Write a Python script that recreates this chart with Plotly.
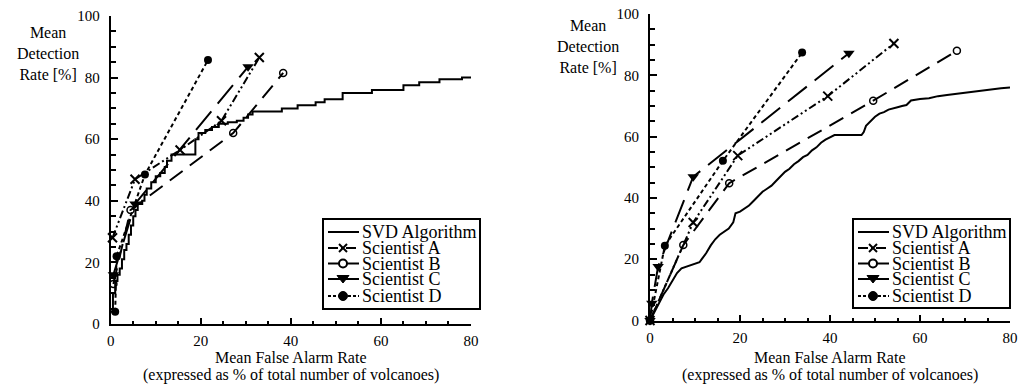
import plotly.graph_objects as go

FONT = "Liberation Serif, Times New Roman, Times, Nimbus Roman, DejaVu Serif, serif"
W, H = 1018, 386

# ---------------- data: left panel ----------------
svd_left_x = [0, 0.5, 1, 1.5, 2, 2.5, 3, 3.5, 4, 4.5, 5, 5.5, 6, 7, 7.5, 8, 9, 10, 11, 12, 12.5,
              13.5, 18.3, 18.8, 19.5, 21, 22.5, 24, 26, 28, 29.5, 30.5, 31.5, 38, 41.5, 45.5,
              47.5, 51.5, 58, 65, 68.5, 73, 78, 80]
svd_left_y = [4, 10, 14, 16, 18, 21, 24, 26, 29, 32, 35, 37, 39, 40, 42, 44, 46, 48, 49, 51, 53,
              55, 55, 60, 62, 63, 64, 65, 65.5, 66, 67, 68, 69, 70, 71, 72, 73, 75, 76, 77.5,
              78.5, 79.5, 80, 80]
a_left_x = [0.4, 5.4, 15.4, 24.6, 33.0]
a_left_y = [28, 47, 56.5, 66, 86.5]
b_left_x = [0.6, 4.4, 27.2, 38.3]
b_left_y = [13, 37, 62, 81.5]
c_left_x = [0.6, 5.4, 30.5]
c_left_y = [16, 39, 83.5]
d_left_x = [1.0, 1.3, 7.6, 21.6]
d_left_y = [4, 22, 48.5, 85.7]

# ---------------- data: right panel ----------------
svd_right_x = [0, 1, 2, 3, 4, 5, 6, 7, 8, 9, 10, 11, 11.5, 12.5, 13.5, 14.5, 15.5, 16.5, 17.5,
               18.5, 19, 20, 21, 22, 23, 24, 25, 26, 27, 28, 29, 30, 31, 32, 33, 34, 35, 36,
               37, 38, 39, 40, 41, 47, 47.5, 48, 49, 50, 51, 52, 53, 54, 55, 56, 57, 58, 59,
               60, 62, 64, 66, 68, 70, 72, 74, 76, 78, 80]
svd_right_y = [0, 3, 6, 8.5, 10.5, 13, 15.5, 17, 17.5, 18, 18.5, 19, 20, 22, 24.5, 26.5, 28, 29,
               30, 32, 35, 35.5, 36.5, 37.5, 39, 40.5, 42, 43, 44, 45.5, 47, 48.5, 49.5, 51, 52,
               53.3, 54, 55.5, 56.5, 58, 59, 59.8, 60.5, 60.5, 61.5, 63.5, 65, 66.5, 67.5, 68,
               68.8, 69.3, 69.6, 70, 70.3, 71.8, 72.1, 72.3, 72.5, 73.2, 73.6, 74, 74.4, 74.8,
               75.2, 75.4, 75.8, 76]
a_right_x = [0, 9.6, 19.5, 39.5, 54.2]
a_right_y = [0, 32, 53.8, 73.2, 90.4]
b_right_x = [0, 7.4, 17.6, 49.6, 68.2]
b_right_y = [0, 24.6, 44.8, 71.7, 88]
c_right_x = [0, 0.4, 1.8, 9.6, 44.2]
c_right_y = [0, 5.6, 17.6, 46.9, 87.2]
d_right_x = [0, 3.3, 16.2, 33.8]
d_right_y = [0, 24.4, 52.1, 87.4]

series_names = ["SVD Algorithm", "Scientist A", "Scientist B", "Scientist C", "Scientist D"]
x_ticks = [0, 20, 40, 60, 80]
y_ticks = [0, 20, 40, 60, 80, 100]

left_data = [(svd_left_x, svd_left_y), (a_left_x, a_left_y), (b_left_x, b_left_y),
             (c_left_x, c_left_y), (d_left_x, d_left_y)]
right_data = [(svd_right_x, svd_right_y), (a_right_x, a_right_y), (b_right_x, b_right_y),
              (c_right_x, c_right_y), (d_right_x, d_right_y)]

styles = [
    dict(dash="solid", symbol=None),
    dict(dash="8px,3px,2px,3px,2px,3px", symbol="x-thin", size=9, lw=2),
    dict(dash="16px,9px", symbol="circle-open", size=7, lw=1.5),
    dict(dash="24px,10px", symbol="triangle-down", size=10, lw=0),
    dict(dash="4px,3px", symbol="circle", size=8, lw=0),
]


def px_x(p):
    return p / W


def px_y(p):
    return 1 - p / H


fig = go.Figure()

panels = [
    dict(suffix="", data=left_data, shape="hv", xdom=(110.7, 471), ydom=(324, 16),
         box=(323, 219, 480, 309), ytitle=(48, 53)),
    dict(suffix="2", data=right_data, shape="linear", xdom=(650, 1010), ydom=(320.5, 14),
         box=(853, 219, 1010, 308), ytitle=(588, 47)),
]

shapes = []
annotations = []
axis_layout = {}

for p in panels:
    s = p["suffix"]
    for i, (name, (xs, ys)) in enumerate(zip(series_names, p["data"])):
        st = styles[i]
        tr = dict(x=xs, y=ys, name=name, showlegend=False, xaxis="x" + s, yaxis="y" + s,
                  line=dict(color="black", width=2, dash=st["dash"],
                            shape=p["shape"] if i == 0 else "linear"),
                  cliponaxis=False, hoverinfo="skip")
        if st["symbol"]:
            tr["mode"] = "lines+markers"
            tr["marker"] = dict(symbol=st["symbol"], size=st["size"], color="black",
                                line=dict(color="black", width=st["lw"]))
        else:
            tr["mode"] = "lines"
        fig.add_trace(go.Scatter(**tr))

    axfont = dict(family=FONT, size=15, color="black")
    axis_layout["xaxis" + s] = dict(
        domain=[px_x(p["xdom"][0]), px_x(p["xdom"][1])], range=[0, 80], anchor="y" + s,
        automargin=False, ticklabeloverflow="allow",
        showline=True, linewidth=2, linecolor="black", showgrid=False, zeroline=False,
        ticks="inside", ticklen=6, tickwidth=2, tickcolor="black", tickvals=x_ticks,
        tickfont=axfont, ticklabelstandoff=2,
        minor=dict(dtick=5, tick0=0, ticks="inside", ticklen=3, tickwidth=1.5,
                   tickcolor="black", showgrid=False))
    axis_layout["yaxis" + s] = dict(
        domain=[px_y(p["ydom"][0]), px_y(p["ydom"][1])], range=[0, 100], anchor="x" + s,
        automargin=False, ticklabeloverflow="allow",
        showline=True, linewidth=2, linecolor="black", showgrid=False, zeroline=False,
        ticks="inside", ticklen=7, tickwidth=2, tickcolor="black", tickvals=y_ticks,
        tickfont=axfont, ticklabelstandoff=6,
        minor=dict(dtick=5, tick0=0, ticks="inside", ticklen=5, tickwidth=1.5,
                   tickcolor="black", showgrid=False))

    # axis titles
    cx, cy = p["ytitle"]
    annotations.append(dict(text="Mean<br>Detection<br>Rate [%]", xref="paper", yref="paper",
                            x=px_x(cx), y=px_y(cy), xanchor="center", yanchor="middle",
                            showarrow=False, align="center",
                            font=dict(family=FONT, size=16, color="black")))
    xc = (p["xdom"][0] + p["xdom"][1]) / 2
    annotations.append(dict(text="Mean False Alarm Rate", xref="paper", yref="paper",
                            x=px_x(xc), y=px_y(357), xanchor="center", yanchor="middle",
                            showarrow=False, font=dict(family=FONT, size=16, color="black")))
    annotations.append(dict(text="(expressed as % of total number of volcanoes)", xref="paper",
                            yref="paper", x=px_x(xc), y=px_y(375), xanchor="center",
                            yanchor="middle", showarrow=False,
                            font=dict(family=FONT, size=16, color="black")))

    # manual legend
    x0, y0, x1, y1 = p["box"]
    shapes.append(dict(type="rect", xref="paper", yref="paper", x0=px_x(x0), x1=px_x(x1),
                       y0=px_y(y0), y1=px_y(y1), line=dict(color="black", width=2),
                       fillcolor="white", layer="above"))
    row_off = [13, 29, 44.5, 60, 77]
    for i, name in enumerate(series_names):
        ry = y0 + row_off[i]
        shapes.append(dict(type="line", xref="paper", yref="paper", x0=px_x(x0 + 5),
                           x1=px_x(x0 + 36), y0=px_y(ry), y1=px_y(ry),
                           line=dict(color="black", width=2,
                                     dash="solid" if i in (0, 2, 3) else
                                     ("3px,2px" if i == 4 else "10px,3px,2px,3px"))))
        mx = x0 + 20
        if i == 1:
            for d in (1, -1):
                shapes.append(dict(type="line", xref="paper", yref="paper",
                                   x0=px_x(mx - 4), x1=px_x(mx + 4), y0=px_y(ry - 4 * d),
                                   y1=px_y(ry + 4 * d), line=dict(color="black", width=2)))
        elif i == 2:
            shapes.append(dict(type="circle", xref="paper", yref="paper", x0=px_x(mx - 4),
                               x1=px_x(mx + 4), y0=px_y(ry - 4), y1=px_y(ry + 4),
                               fillcolor="white", line=dict(color="black", width=2)))
        elif i == 3:
            path = "M {} {} L {} {} L {} {} Z".format(px_x(mx - 6), px_y(ry - 3.5),
                                                       px_x(mx + 6), px_y(ry - 3.5),
                                                       px_x(mx), px_y(ry + 4))
            shapes.append(dict(type="path", xref="paper", yref="paper", path=path,
                               fillcolor="black", line=dict(color="black", width=1)))
        elif i == 4:
            shapes.append(dict(type="circle", xref="paper", yref="paper", x0=px_x(mx - 4.5),
                               x1=px_x(mx + 4.5), y0=px_y(ry - 4.5), y1=px_y(ry + 4.5),
                               fillcolor="black", line=dict(color="black", width=1)))
        annotations.append(dict(text=name, xref="paper", yref="paper", x=px_x(x0 + 37),
                                y=px_y(ry), xanchor="left", yanchor="middle",
                                showarrow=False,
                                font=dict(family=FONT, size=18, color="black")))

fig.update_layout(width=W, height=H, autosize=False, margin=dict(l=0, r=0, t=0, b=0),
                  paper_bgcolor="white", plot_bgcolor="white", showlegend=False,
                  hovermode=False, font=dict(family=FONT, color="black"),
                  shapes=shapes, annotations=annotations, **axis_layout)

# remove the default page margin so the 1018x386 figure fills the window exactly
fig.write_html("out.html", config={"displayModeBar": False},
               post_script="document.body.style.margin='0';"
                           "document.body.style.overflow='hidden';")
